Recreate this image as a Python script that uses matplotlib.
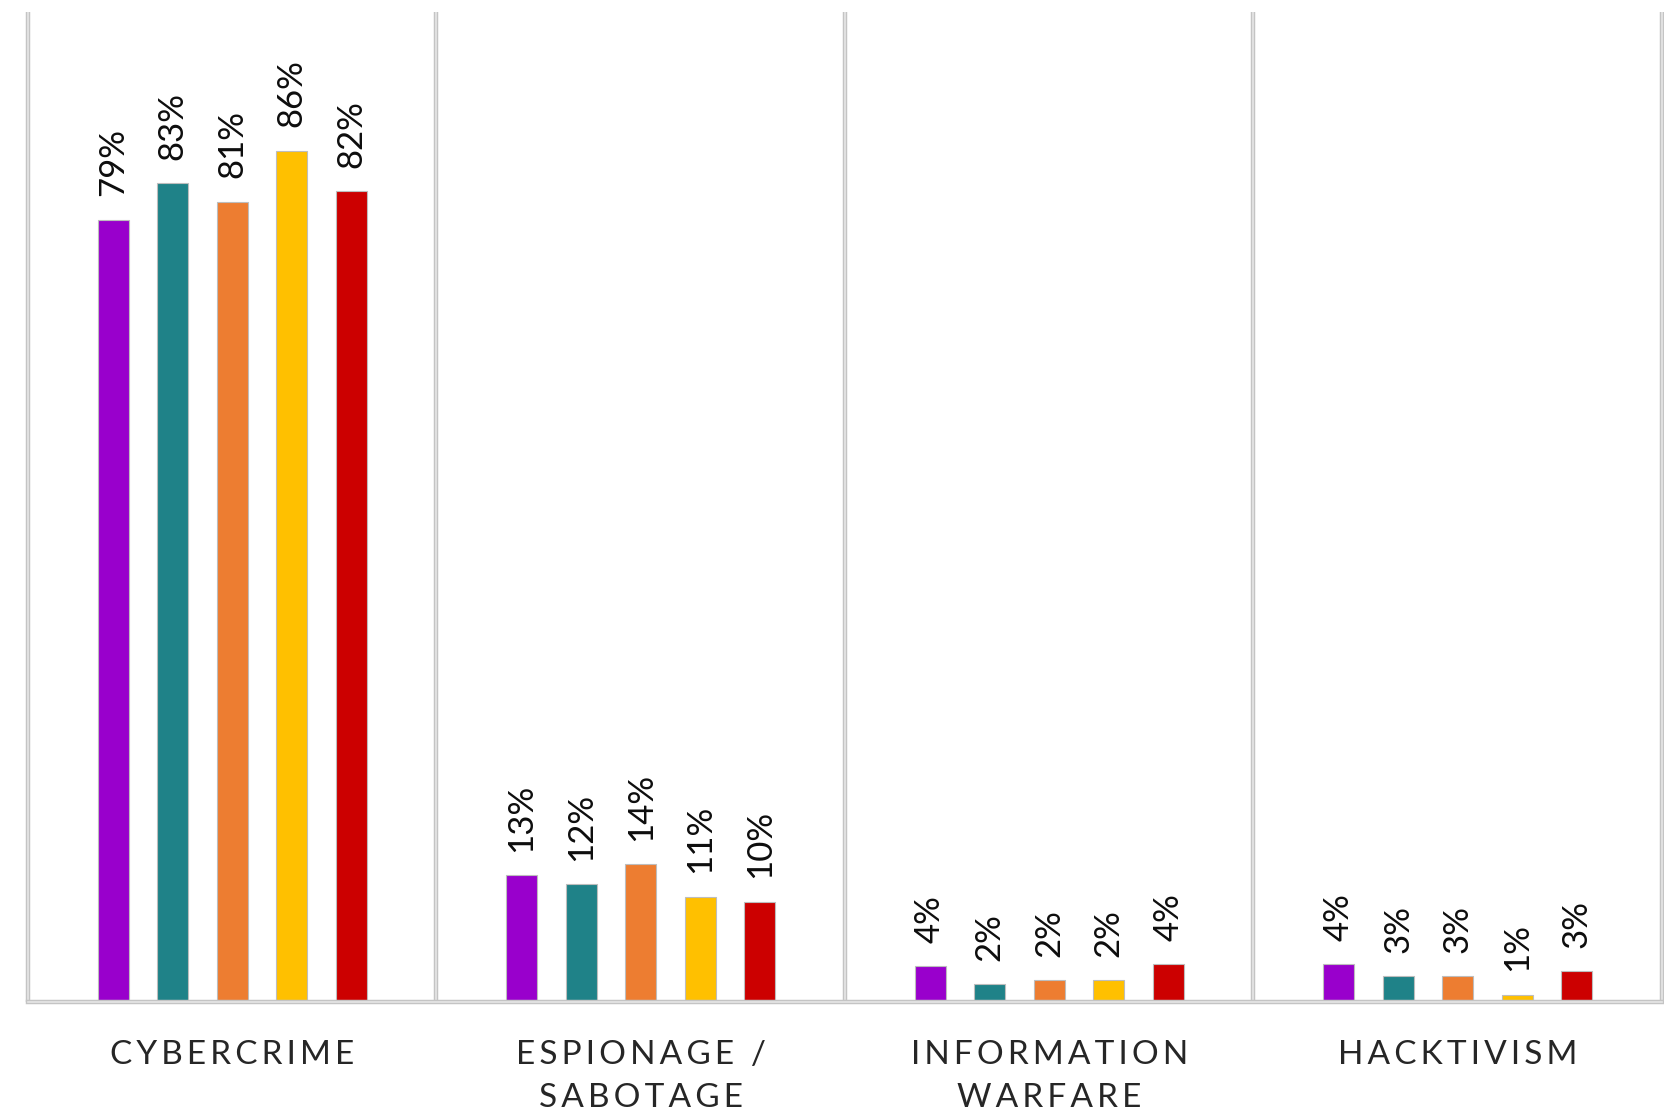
import numpy as np
import matplotlib.pyplot as plt

categories = ["CYBERCRIME", "ESPIONAGE /\nSABOTAGE", "INFORMATION\nWARFARE", "HACKTIVISM"]

# one array per year-series, values in percent
s1 = [79.0, 12.8, 3.6, 3.8]
s2 = [82.7, 11.9, 1.8, 2.6]
s3 = [80.8, 13.9, 2.2, 2.6]
s4 = [86.0, 10.6, 2.2, 0.7]
s5 = [81.9, 10.1, 3.8, 3.1]
series = [s1, s2, s3, s4, s5]
colors = ["#9900CC", "#1F8288", "#ED7D31", "#FFC000", "#CC0000"]

plt.rcParams['font.family'] = ['Lato', 'DejaVu Sans']

fig = plt.figure(figsize=(16.64, 11.13), dpi=100)
ax = fig.add_axes([0.0168, 0.0997, 0.982, 0.8895])

x = np.arange(len(categories))
step = 0.1458
width = 0.076

for i, (vals, c) in enumerate(zip(series, colors)):
    pos = x + (i - 2) * step
    bars = ax.bar(pos, vals, width, color=c, edgecolor='#bdbdbd', linewidth=0.8, zorder=3)
    for b, v in zip(bars, vals):
        ax.annotate("%d%%" % int(v + 0.5), (b.get_x() + b.get_width() / 2, v),
                    xytext=(0, 17), textcoords='offset points',
                    rotation=90, ha='center', va='bottom',
                    fontsize=25, color='#0d0d0d')

# panel separators and baseline
for xv in np.arange(-0.5, len(categories), 1.0):
    ax.plot([xv, xv], [0, 100], color='#c4c4c4', lw=3.2, solid_capstyle='butt', zorder=1, clip_on=False)
    ax.plot([xv, xv], [0, 100], color='#e6e6e6', lw=1.2, solid_capstyle='butt', zorder=1, clip_on=False)
ax.plot([-0.5, 3.5], [0, 0], color='#c4c4c4', lw=3.2, zorder=4, clip_on=False)
ax.plot([-0.5, 3.5], [0, 0], color='#e6e6e6', lw=1.2, zorder=4, clip_on=False)

ax.set_xlim(-0.5, 3.5)
ax.set_ylim(0, 100)
ax.set_xticks([])
ax.set_yticks([])
for sp in ax.spines.values():
    sp.set_visible(False)

# spaced-out category names
for xi, name in zip(x, categories):
    spaced = "\n".join("\u2009".join(line) for line in name.split("\n"))
    ax.annotate(spaced, (xi, 0), xytext=(0, -27), textcoords='offset points',
                ha='center', va='top', fontsize=24, color='#262626',
                linespacing=1.55, annotation_clip=False)

fig.savefig("out.png", dpi=100)
